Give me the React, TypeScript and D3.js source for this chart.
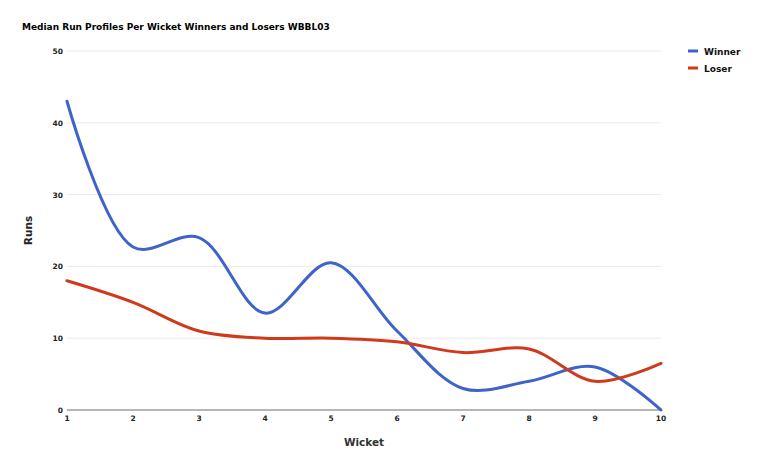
import React from "react";
import * as d3 from "d3";

const wickets = [1, 2, 3, 4, 5, 6, 7, 8, 9, 10];
const winner = [43, 22.7, 24, 13.5, 20.5, 11, 3, 4, 6, 0];
const loser = [18, 15, 11, 10, 10, 9.5, 8, 8.5, 4, 6.5];
const yTicks = [0, 10, 20, 30, 40, 50];
const seriesNames = ["Winner", "Loser"];
const colors = ["#3e64c9", "#cf3a1d"];

const width = 760;
const height = 466;
const margin = { top: 51, right: 99, bottom: 56, left: 67 };
const font = "Verdana, 'DejaVu Sans', sans-serif";

export default function App() {
  const x = d3
    .scaleLinear()
    .domain([1, 10])
    .range([margin.left, width - margin.right]);
  const y = d3
    .scaleLinear()
    .domain([0, 50])
    .range([height - margin.bottom, margin.top]);

  const line = d3
    .line<number>()
    .x((_, i) => x(wickets[i]))
    .y((d) => y(d))
    .curve(d3.curveCatmullRom.alpha(0.5));

  const series = [winner, loser];

  return (
    <svg
      width={width}
      height={height}
      style={{ position: "absolute", left: 0, top: 0, background: "#fff" }}
      fontFamily={font}
    >
      <text x={22} y={30} fontSize={9} fontWeight="bold" fill="#000">
        Median Run Profiles Per Wicket Winners and Losers WBBL03
      </text>

      {/* gridlines */}
      {yTicks.map((t) => (
        <g key={t}>
          <line
            x1={margin.left}
            x2={width - margin.right}
            y1={y(t)}
            y2={y(t)}
            stroke={t === 0 ? "#9e9e9e" : "#ebebeb"}
            strokeWidth={t === 0 ? 1.5 : 1}
          />
          <text
            x={margin.left - 4}
            y={y(t) + 3}
            textAnchor="end"
            fontSize={7.5}
            fontWeight="bold"
            fill="#222"
          >
            {t}
          </text>
        </g>
      ))}

      {wickets.map((w) => (
        <text
          key={w}
          x={x(w)}
          y={height - margin.bottom + 11}
          textAnchor="middle"
          fontSize={7.5}
          fontWeight="bold"
          fill="#222"
        >
          {w}
        </text>
      ))}

      {series.map((s, i) => (
        <path
          key={i}
          d={line(s) || ""}
          fill="none"
          stroke={colors[i]}
          strokeWidth={3}
          strokeLinejoin="round"
          strokeLinecap="round"
        />
      ))}

      <text
        x={(margin.left + width - margin.right) / 2}
        y={446}
        textAnchor="middle"
        fontSize={10.5}
        fontWeight="bold"
        fill="#333"
      >
        Wicket
      </text>
      <text
        transform={`translate(32,${(margin.top + height - margin.bottom) / 2}) rotate(-90)`}
        textAnchor="middle"
        fontSize={10.5}
        fontWeight="bold"
        fill="#222"
      >
        Runs
      </text>

      {/* legend */}
      {seriesNames.map((n, i) => (
        <g key={n} transform={`translate(688,${51 + i * 17})`}>
          <line x1={0} x2={10} y1={0} y2={0} stroke={colors[i]} strokeWidth={3} />
          <text x={16} y={3.5} fontSize={9} fontWeight="bold" fill="#111">
            {n}
          </text>
        </g>
      ))}
    </svg>
  );
}
